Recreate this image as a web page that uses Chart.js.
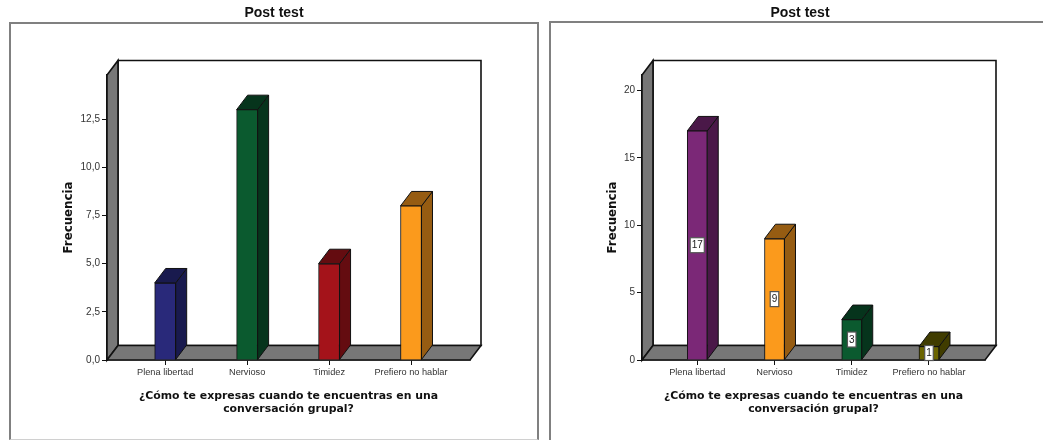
<!DOCTYPE html>
<html>
<head>
<meta charset="utf-8">
<title>Post test</title>
<script src="https://cdn.jsdelivr.net/npm/chart.js@4"></script>
<style>
  html, body { margin: 0; padding: 0; background: #fff; overflow: hidden; }
  body { width: 1043px; height: 440px; position: relative; }
  canvas { position: absolute; top: 0; }
  .frame { position: absolute; box-sizing: border-box; border: 2px solid #808080; }
  #frameA { left: 9px; top: 22px; width: 530px; height: 418px; border-bottom: 1px solid #d0d0d0; }
  #frameB { left: 549px; top: 21px; width: 494px; height: 419px; border-right: 0; border-bottom: 0; }
</style>
</head>
<body>
<div class="frame" id="frameA"></div>
<div class="frame" id="frameB"></div>
<canvas id="chartA" width="548" height="440" style="left:0"></canvas>
<canvas id="chartB" width="504" height="440" style="left:548px"></canvas>
<script>
const chartTitle = "Post test";
const xAxisTitle = ["¿Cómo te expresas cuando te encuentras en una", "conversación grupal?"];
const yAxisTitle = "Frecuencia";

const categoriesA = ["Plena libertad", "Nervioso", "Timidez", "Prefiero no hablar"];
const valuesA = [4, 13, 5, 8];
const yTicksA = [0, 2.5, 5, 7.5, 10, 12.5];
const yLabelsA = ["0,0", "2,5", "5,0", "7,5", "10,0", "12,5"];
const frontColorsA = ["#29297a", "#0b5a2f", "#a4131a", "#fb9a1c"];
const sideColorsA = ["#191a4e", "#06341c", "#640c10", "#965c12"];

const categoriesB = ["Plena libertad", "Nervioso", "Timidez", "Prefiero no hablar"];
const valuesB = [17, 9, 3, 1];
const yTicksB = [0, 5, 10, 15, 20];
const yLabelsB = ["0", "5", "10", "15", "20"];
const frontColorsB = ["#7b2877", "#fb9a1c", "#0b5a2f", "#6b6400"];
const sideColorsB = ["#4a1848", "#965c12", "#06341c", "#403c00"];

// Fake 3D box: walls and floor go behind the bars, bar sides behind the front faces
const box3d = {
  id: "box3d",
  afterLayout(chart) {
    // title centres on the whole canvas, not on the padded area
    chart.titleBlock.left = 0;
    chart.titleBlock.right = chart.width;
  },
  beforeDatasetsDraw(chart, args, opts) {
    const { ctx, chartArea: a } = chart;
    const dx = opts.dx, dy = opts.dy;
    const poly = (pts, fill) => {
      ctx.beginPath();
      pts.forEach((p, i) => (i ? ctx.lineTo(p[0], p[1]) : ctx.moveTo(p[0], p[1])));
      ctx.closePath();
      if (fill) {
        ctx.fillStyle = fill;
        ctx.fill();
      }
      ctx.stroke();
    };
    ctx.save();
    ctx.strokeStyle = "#111";
    ctx.lineWidth = 1.6;
    poly([[a.left + dx, a.top - dy], [a.right + dx, a.top - dy], [a.right + dx, a.bottom - dy], [a.left + dx, a.bottom - dy]], "#fff");
    poly([[a.left, a.bottom], [a.left, a.top], [a.left + dx, a.top - dy], [a.left + dx, a.bottom - dy]], "#777");
    poly([[a.left, a.bottom], [a.right, a.bottom], [a.right + dx, a.bottom - dy], [a.left + dx, a.bottom - dy]], "#777");
    ctx.lineWidth = 1;
    chart.getDatasetMeta(0).data.forEach((bar, i) => {
      const l = bar.x - bar.width / 2, r = bar.x + bar.width / 2;
      poly([[r, bar.y], [r, bar.base], [r + dx, bar.base - dy], [r + dx, bar.y - dy]], opts.sides[i]);
      poly([[l, bar.y], [r, bar.y], [r + dx, bar.y - dy], [l + dx, bar.y - dy]], opts.sides[i]);
    });
    ctx.restore();
  },
  afterDatasetsDraw(chart, args, opts) {
    if (!opts.boxes) return;
    const { ctx } = chart;
    ctx.save();
    ctx.font = "10px 'Liberation Sans'";
    ctx.textAlign = "center";
    ctx.textBaseline = "middle";
    chart.getDatasetMeta(0).data.forEach((bar, i) => {
      const text = String(chart.data.datasets[0].data[i].y);
      const w = ctx.measureText(text).width + 3;
      const yMid = (bar.y + bar.base) / 2;
      ctx.fillStyle = "#fff";
      ctx.strokeStyle = "#555";
      ctx.lineWidth = 1.2;
      ctx.fillRect(bar.x - w / 2, yMid - 7.5, w, 15);
      ctx.strokeRect(bar.x - w / 2, yMid - 7.5, w, 15);
      ctx.fillStyle = "#222";
      ctx.fillText(text, bar.x, yMid + 0.5);
    });
    ctx.restore();
  },
};

function makeChart(id, s) {
  return new Chart(document.getElementById(id), {
    type: "bar",
    data: {
      datasets: [{
        data: s.values.map((v, i) => ({ x: i, y: v })),
        backgroundColor: s.fronts,
        borderColor: "#111",
        borderWidth: 1,
        barThickness: s.barWidth,
      }],
    },
    plugins: [box3d],
    options: {
      responsive: false,
      animation: false,
      layout: { padding: { left: 0, right: s.padRight, top: 5, bottom: 25 } },
      plugins: {
        legend: { display: false },
        tooltip: { enabled: false },
        title: {
          display: true,
          text: chartTitle,
          color: "#111",
          font: { family: "'Liberation Sans'", size: 14, weight: "bold" },
          padding: { top: 0, bottom: 53.2 },
        },
        box3d: { dx: s.dx, dy: s.dy, sides: s.sides, boxes: s.boxes },
      },
      scales: {
        x: {
          type: "linear",
          offset: false,
          min: s.xMin,
          max: s.xMax,
          afterBuildTicks: (scale) => { scale.ticks = s.categories.map((c, i) => ({ value: i })); },
          afterFit: (scale) => { scale.height = 55; },
          grid: { offset: false, drawOnChartArea: false, tickLength: 5, tickColor: "#111" },
          border: { color: "#111", width: 1.6 },
          ticks: {
            autoSkip: false,
            maxRotation: 0,
            padding: 2,
            color: "#333",
            font: { family: "'Liberation Sans'", size: 9.2 },
            callback: (v) => s.categories[v],
          },
          title: {
            display: true,
            text: xAxisTitle,
            color: "#111",
            font: { family: "'DejaVu Sans'", size: 10.9, weight: "bold", lineHeight: 1.15 },
            padding: 0,
          },
        },
        y: {
          min: 0,
          max: s.yMax,
          afterBuildTicks: (scale) => { scale.ticks = s.yTicks.map((v) => ({ value: v })); },
          afterFit: (scale) => { scale.width = s.axisLeft; },
          grid: { drawOnChartArea: false, tickLength: 5, tickColor: "#111" },
          border: { color: "#111", width: 1.6 },
          ticks: {
            padding: 2,
            color: "#333",
            font: { family: "'Liberation Sans'", size: 10 },
            callback: (v) => s.yLabels[s.yTicks.indexOf(v)],
          },
          title: {
            display: true,
            text: yAxisTitle,
            color: "#111",
            font: { family: "'DejaVu Sans'", size: 11.8, weight: "bold" },
            padding: { top: s.yTitleGap, bottom: 0 },
          },
        },
      },
    },
  });
}

makeChart("chartA", {
  categories: categoriesA, values: valuesA, fronts: frontColorsA, sides: sideColorsA,
  yTicks: yTicksA, yLabels: yLabelsA, yMax: 14.8,
  xMin: -0.71, xMax: 3.72, axisLeft: 107, padRight: 78, barWidth: 21, dx: 11, dy: 14.5, boxes: false, yTitleGap: 62,
});
makeChart("chartB", {
  categories: categoriesB, values: valuesB, fronts: frontColorsB, sides: sideColorsB,
  yTicks: yTicksB, yLabels: yLabelsB, yMax: 21.15,
  xMin: -0.715, xMax: 3.725, axisLeft: 94, padRight: 67, barWidth: 20, dx: 11, dy: 14.5, boxes: true, yTitleGap: 58,
});
</script>
</body>
</html>
